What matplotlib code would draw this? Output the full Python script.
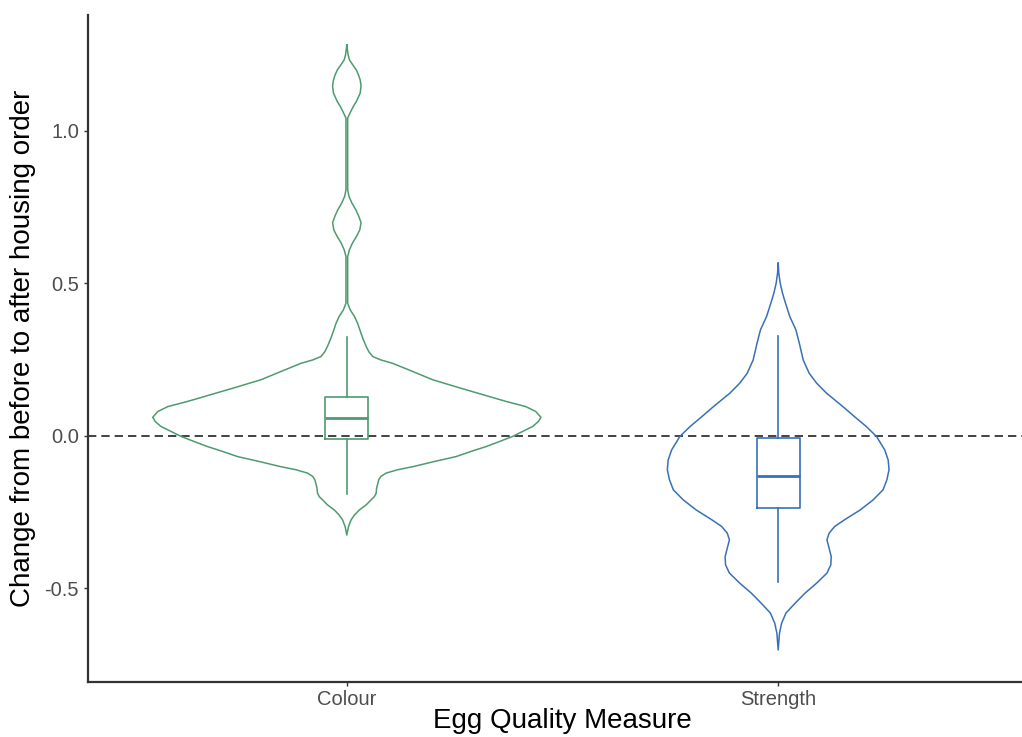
import numpy as np
import matplotlib
matplotlib.use("Agg")
import matplotlib.pyplot as plt

plt.rcParams["font.family"] = ["Liberation Sans", "DejaVu Sans"]

categories = ["Colour", "Strength"]
colours = ["#4E9B6E", "#3A70B7"]

# violin outlines: value and half width (x units)
colour_y = [1.282, 1.249, 1.233, 1.216, 1.200, 1.184, 1.167, 1.148, 1.124, 1.096, 1.080, 1.063, 1.042,
            0.807, 0.785, 0.763, 0.741, 0.719, 0.699, 0.675, 0.653, 0.632, 0.610, 0.588,
            0.435, 0.413, 0.391, 0.369, 0.348, 0.320, 0.293, 0.276, 0.260, 0.249, 0.238, 0.211,
            0.184, 0.156, 0.129, 0.113, 0.096, 0.080, 0.061, 0.047, 0.031, 0.014, -0.002, -0.019,
            -0.035, -0.051, -0.068, -0.084, -0.101, -0.111, -0.122, -0.133, -0.144, -0.155, -0.172,
            -0.188, -0.199, -0.210, -0.226, -0.243, -0.259, -0.275, -0.297, -0.325]
colour_hw = [0.0, 0.003, 0.006, 0.014, 0.022, 0.027, 0.031, 0.033, 0.031, 0.022, 0.015, 0.009, 0.002,
             0.002, 0.005, 0.012, 0.021, 0.028, 0.033, 0.030, 0.022, 0.013, 0.006, 0.002,
             0.002, 0.008, 0.018, 0.025, 0.030, 0.037, 0.045, 0.051, 0.060, 0.079, 0.106, 0.153,
             0.199, 0.265, 0.330, 0.369, 0.415, 0.438, 0.450, 0.444, 0.431, 0.407, 0.384, 0.353,
             0.323, 0.288, 0.253, 0.203, 0.153, 0.118, 0.091, 0.079, 0.074, 0.072, 0.069,
             0.068, 0.064, 0.056, 0.045, 0.029, 0.018, 0.010, 0.004, 0.0]

strength_y = [0.566, 0.533, 0.501, 0.468, 0.435, 0.391, 0.348, 0.304, 0.249, 0.205, 0.173, 0.140,
              0.096, 0.063, 0.031, -0.002, -0.046, -0.079, -0.111, -0.144, -0.177, -0.210, -0.243,
              -0.275, -0.297, -0.319, -0.341, -0.368, -0.396, -0.423, -0.450, -0.483, -0.516,
              -0.549, -0.581, -0.614, -0.647, -0.702]
strength_hw = [0.0, 0.0015, 0.0046, 0.010, 0.017, 0.027, 0.041, 0.049, 0.058, 0.072, 0.089, 0.112,
               0.150, 0.177, 0.204, 0.228, 0.247, 0.255, 0.257, 0.252, 0.243, 0.220, 0.190,
               0.154, 0.131, 0.118, 0.113, 0.118, 0.123, 0.122, 0.113, 0.089, 0.062,
               0.039, 0.018, 0.008, 0.003, 0.0]

# boxplot stats
q1 = [-0.010, -0.236]
med = [0.058, -0.130]
q3 = [0.126, -0.007]
whislo = [-0.191, -0.478]
whishi = [0.324, 0.326]

fig = plt.figure(figsize=(10.22, 7.37), dpi=100)
ax = fig.add_axes([88 / 1022, 55 / 737, 949 / 1022, 667 / 737])

profiles = [(colour_y, colour_hw), (strength_y, strength_hw)]
for i, (yy, hw) in enumerate(profiles):
    pos = i + 1
    yy = np.array(yy)
    hw = np.array(hw)
    xs = np.concatenate([pos - hw, (pos + hw)[::-1], [pos - hw[0]]])
    ys = np.concatenate([yy, yy[::-1], [yy[0]]])
    ax.plot(xs, ys, color=colours[i], lw=1.1, solid_joinstyle="round")

stats = []
for i in range(2):
    stats.append({"med": med[i], "q1": q1[i], "q3": q3[i],
                  "whislo": whislo[i], "whishi": whishi[i], "fliers": []})
for i in range(2):
    ax.bxp([stats[i]], positions=[i + 1], widths=0.1, showcaps=False, manage_ticks=False,
           boxprops=dict(color=colours[i], lw=1.2),
           whiskerprops=dict(color=colours[i], lw=1.2),
           medianprops=dict(color=colours[i], lw=2.0))

ax.axhline(0, color="#222222", lw=1.2, linestyle=(0, (5, 3)), zorder=0)

ax.set_xlim(0.4, 2.6)
ax.set_ylim(-0.807, 1.380)
ax.set_xticks([1, 2])
ax.set_xticklabels(categories)
ax.set_yticks([-0.5, 0.0, 0.5, 1.0])
ax.set_yticklabels(["-0.5", "0.0", "0.5", "1.0"])
ax.tick_params(colors="#333333", labelcolor="#4D4D4D", labelsize=14.5, length=3, width=1)
ax.tick_params(axis="x", pad=3)

for side in ["top", "right"]:
    ax.spines[side].set_visible(False)
for side in ["left", "bottom"]:
    ax.spines[side].set_color("#333333")
    ax.spines[side].set_linewidth(1.6)

ax.set_xlabel("Egg Quality Measure", fontsize=20, labelpad=-1)
ax.set_ylabel("Change from before to after housing order", fontsize=20, labelpad=6)

fig.savefig("out.png", dpi=100)
